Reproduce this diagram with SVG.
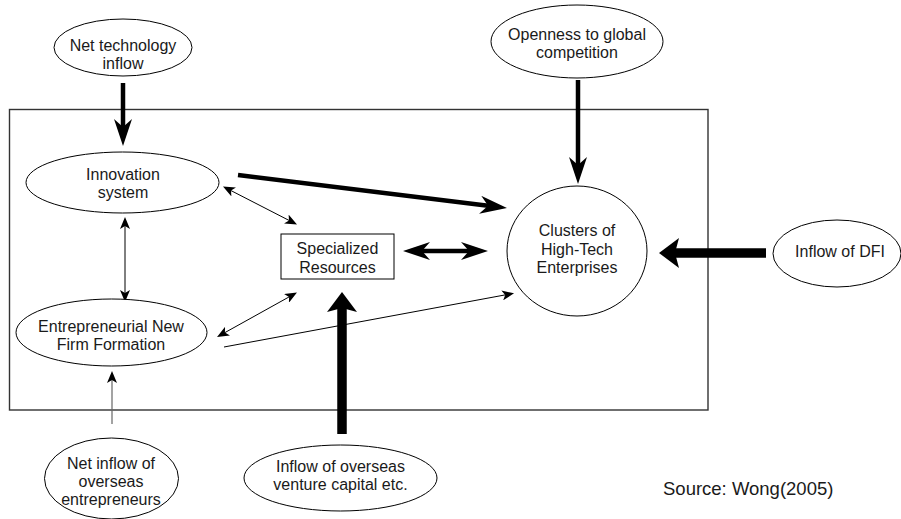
<svg xmlns="http://www.w3.org/2000/svg" width="901" height="519" viewBox="0 0 901 519">
  <style>
    .node { fill: #ffffff; stroke: #000000; stroke-width: 1; }
    .frame { fill: none; stroke: #333333; stroke-width: 1.4; }
    .lbl { font-family: "Liberation Sans", Arial, sans-serif; font-size: 16px; fill: #1a1a1a; text-anchor: middle; }
    .src { font-family: "Liberation Sans", Arial, sans-serif; font-size: 18.5px; fill: #1a1a1a; }
    .thin { stroke: #000000; stroke-width: 1; fill: none; }
    .grey { stroke: #666666; stroke-width: 1.2; fill: none; }
    .med { stroke: #000000; stroke-width: 4.5; fill: none; }
    .bold { stroke: #000000; stroke-width: 9.5; fill: none; }
  </style>
  <defs>
    <!-- barbed heads; refX sits on the notch so the shaft ends inside the head -->
    <marker id="ah-s" markerUnits="userSpaceOnUse" markerWidth="12" markerHeight="10" viewBox="0 0 12 10" refX="3" refY="5" orient="auto-start-reverse">
      <path d="M0,0 L12,5 L0,10 L3,5 Z" fill="#000"/>
    </marker>
    <marker id="ah-m" markerUnits="userSpaceOnUse" markerWidth="27" markerHeight="18" viewBox="0 0 27 18" refX="8" refY="9" orient="auto-start-reverse">
      <path d="M0,0 L27,9 L0,18 L8,9 Z" fill="#000"/>
    </marker>
    <marker id="ah-l" markerUnits="userSpaceOnUse" markerWidth="20" markerHeight="30" viewBox="0 0 20 30" refX="4" refY="15" orient="auto-start-reverse">
      <path d="M0,0 L20,15 L0,30 L4,15 Z" fill="#000"/>
    </marker>
  </defs>

  <rect class="frame" x="9.5" y="109.5" width="698.5" height="300.5"/>

  <g id="connectors">
    <line class="med" x1="123" y1="83" x2="123" y2="127" marker-end="url(#ah-m)"/>
    <line class="med" x1="578" y1="80" x2="578" y2="165" marker-end="url(#ah-m)"/>
    <line class="med" x1="238" y1="175" x2="488.1" y2="205.7" marker-end="url(#ah-m)"/>
    <line class="med" x1="422" y1="251" x2="469" y2="251" marker-start="url(#ah-m)" marker-end="url(#ah-m)"/>
    <line class="bold" x1="766" y1="253" x2="675" y2="253" marker-end="url(#ah-l)"/>
    <line class="bold" x1="342" y1="434" x2="342" y2="308" marker-end="url(#ah-l)"/>
    <line class="thin" x1="125" y1="226" x2="125" y2="293" marker-start="url(#ah-s)" marker-end="url(#ah-s)"/>
    <line class="thin" x1="231" y1="190.6" x2="289" y2="220.4" marker-start="url(#ah-s)" marker-end="url(#ah-s)"/>
    <line class="thin" x1="224.9" y1="332.6" x2="289.1" y2="296.9" marker-start="url(#ah-s)" marker-end="url(#ah-s)"/>
    <line class="thin" x1="224" y1="347" x2="505.2" y2="294.9" marker-end="url(#ah-s)"/>
    <line class="grey" x1="112" y1="424" x2="112" y2="380" marker-end="url(#ah-s)"/>
  </g>

  <g id="net-technology-inflow">
    <ellipse class="node" cx="123" cy="47.5" rx="69" ry="28.5"/>
    <text class="lbl" x="123" y="51">Net technology</text>
    <text class="lbl" x="123" y="69">inflow</text>
  </g>

  <g id="innovation-system">
    <ellipse class="node" cx="122.5" cy="182.5" rx="96.5" ry="30.5"/>
    <text class="lbl" x="123" y="180">Innovation</text>
    <text class="lbl" x="123" y="198">system</text>
  </g>

  <g id="openness">
    <ellipse class="node" cx="577" cy="41.5" rx="86" ry="36.5"/>
    <text class="lbl" x="577" y="40">Openness to global</text>
    <text class="lbl" x="577" y="58">competition</text>
  </g>

  <g id="clusters">
    <ellipse class="node" cx="577" cy="251" rx="70" ry="65"/>
    <text class="lbl" x="577" y="236">Clusters of</text>
    <text class="lbl" x="577" y="254.5">High-Tech</text>
    <text class="lbl" x="577" y="273">Enterprises</text>
  </g>

  <g id="inflow-dfi">
    <ellipse class="node" cx="837" cy="253.5" rx="64" ry="33.5"/>
    <text class="lbl" x="840" y="257">Inflow of DFI</text>
  </g>

  <g id="specialized-resources">
    <rect class="node" x="281" y="234" width="113" height="45"/>
    <text class="lbl" x="337.5" y="254">Specialized</text>
    <text class="lbl" x="337.5" y="272.5">Resources</text>
  </g>

  <g id="entrepreneurial">
    <ellipse class="node" cx="111.5" cy="332.5" rx="95.5" ry="33.5"/>
    <text class="lbl" x="111" y="331.5">Entrepreneurial New</text>
    <text class="lbl" x="111" y="350">Firm Formation</text>
  </g>

  <g id="overseas-entrepreneurs">
    <ellipse class="node" cx="111.5" cy="478.5" rx="67" ry="40.5"/>
    <text class="lbl" x="111" y="469">Net inflow of</text>
    <text class="lbl" x="111" y="487">overseas</text>
    <text class="lbl" x="111" y="505">entrepreneurs</text>
  </g>

  <g id="venture-capital">
    <ellipse class="node" cx="340.5" cy="478" rx="96.5" ry="33"/>
    <text class="lbl" x="340.5" y="472">Inflow of overseas</text>
    <text class="lbl" x="340.5" y="490">venture capital etc.</text>
  </g>

  <text class="src" x="663" y="495">Source: Wong(2005)</text>
</svg>
